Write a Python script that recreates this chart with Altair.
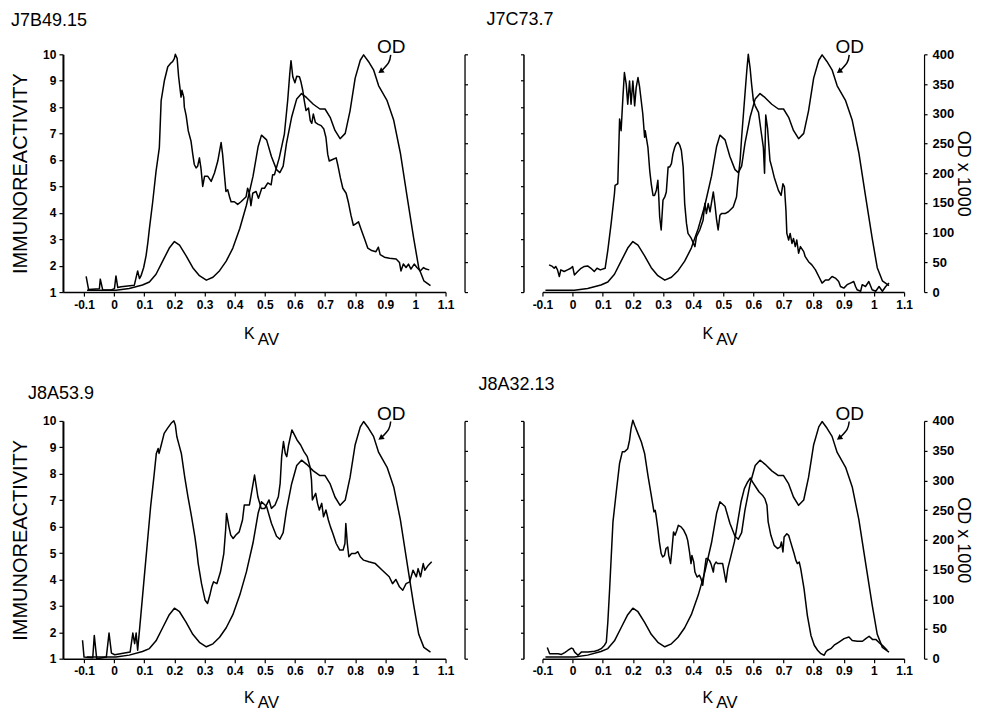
import altair as alt
import pandas as pd

FONT = "Liberation Sans"

# ---- axis ticks / labels ----
X_TICKS = [-0.1, 0, 0.1, 0.2, 0.3, 0.4, 0.5, 0.6, 0.7, 0.8, 0.9, 1, 1.1]
IMM_TICKS = [1, 2, 3, 4, 5, 6, 7, 8, 9, 10]
OD_TICKS = [0, 50, 100, 150, 200, 250, 300, 350, 400]
PANEL_TITLES = ["J7B49.15", "J7C73.7", "J8A53.9", "J8A32.13"]

# ---- OD x 1000 trace (same elution profile in each panel): (Kav, OD x 1000) ----
OD_TRACE = [(-0.09, 3), (0.006, 3), (0.05, 6), (0.094, 12), (0.117, 17), (0.139, 30), (0.161, 52),
            (0.183, 74), (0.2, 85), (0.217, 79), (0.239, 61), (0.261, 41), (0.283, 27.5), (0.306, 20),
            (0.328, 25), (0.35, 36), (0.372, 52), (0.394, 74), (0.417, 107), (0.439, 146), (0.461, 195),
            (0.478, 245), (0.489, 264), (0.506, 256), (0.522, 228), (0.539, 206), (0.55, 201), (0.561, 212),
            (0.572, 250), (0.589, 294), (0.606, 325), (0.622, 334), (0.639, 327), (0.661, 316), (0.683, 308),
            (0.7, 308), (0.717, 294), (0.733, 272), (0.75, 258), (0.767, 267), (0.783, 305), (0.8, 360),
            (0.817, 390), (0.828, 399), (0.844, 388), (0.861, 374), (0.878, 347), (0.906, 322), (0.928, 289),
            (0.95, 234), (0.972, 162), (0.994, 91), (1.011, 41), (1.028, 19), (1.05, 11)]

# ---- immunoreactivity traces: (Kav, immunoreactivity) ----
IMMUNO_J7B49 = [(-0.093, 1.59), (-0.085, 1.10), (-0.049, 1.13), (-0.046, 1.49), (-0.038, 1.08), (-0.010, 1.08),
    (0.001, 1.13), (0.006, 1.61), (0.012, 1.17), (0.023, 1.20), (0.067, 1.26), (0.078, 1.80), (0.084, 1.51),
    (0.089, 1.61), (0.098, 1.93), (0.106, 2.38), (0.112, 2.89), (0.117, 3.40), (0.128, 4.42), (0.139, 5.57),
    (0.150, 6.47), (0.156, 8.25), (0.167, 9.02), (0.178, 9.53), (0.189, 9.68), (0.194, 9.72), (0.2, 9.85),
    (0.203, 10.0), (0.209, 9.85), (0.214, 9.15), (0.222, 8.38), (0.225, 8.64), (0.231, 8.38), (0.233, 8.0),
    (0.239, 7.68), (0.246, 7.10), (0.255, 6.72), (0.261, 6.21), (0.266, 5.83), (0.272, 5.70), (0.277, 5.76),
    (0.283, 6.08), (0.288, 5.70), (0.294, 5.0), (0.3, 5.38), (0.311, 5.38), (0.322, 5.19), (0.333, 5.51),
    (0.344, 5.96), (0.355, 6.66), (0.360, 6.21), (0.366, 5.44), (0.371, 4.81), (0.377, 4.87), (0.383, 4.61),
    (0.388, 4.42), (0.399, 4.42), (0.410, 4.32), (0.421, 4.42), (0.438, 4.61), (0.443, 4.93), (0.449, 4.74),
    (0.454, 4.27), (0.460, 4.74), (0.471, 4.81), (0.479, 4.55), (0.490, 4.93), (0.499, 4.93), (0.510, 5.13),
    (0.521, 5.06), (0.526, 5.44), (0.532, 5.44), (0.548, 6.08), (0.565, 6.98), (0.576, 8.25), (0.583, 9.28),
    (0.587, 9.76), (0.593, 9.15), (0.600, 8.92), (0.606, 9.17), (0.615, 9.15), (0.620, 8.96), (0.626, 8.64),
    (0.631, 8.25), (0.637, 7.87), (0.645, 7.97), (0.651, 7.49), (0.656, 7.39), (0.661, 7.74), (0.668, 7.42),
    (0.676, 7.36), (0.687, 7.30), (0.696, 7.17), (0.703, 6.85), (0.709, 6.21), (0.714, 5.96), (0.725, 6.02),
    (0.737, 6.08), (0.742, 5.83), (0.751, 5.32), (0.759, 4.93), (0.770, 4.74), (0.777, 4.42), (0.786, 3.91),
    (0.794, 3.53), (0.803, 3.59), (0.811, 3.66), (0.819, 3.40), (0.831, 3.02), (0.842, 2.66), (0.855, 2.57),
    (0.869, 2.53), (0.877, 2.70), (0.883, 2.42), (0.897, 2.32), (0.914, 2.28), (0.936, 2.25), (0.947, 2.12),
    (0.952, 1.80), (0.960, 2.06), (0.969, 1.93), (0.977, 2.06), (0.985, 1.87), (0.996, 2.06), (1.005, 1.93),
    (1.016, 1.80), (1.027, 1.93), (1.035, 1.87), (1.046, 1.84)]

IMMUNO_J7C73 = [(-0.078, 2.03), (-0.067, 1.97), (-0.061, 1.90), (-0.056, 1.97), (-0.05, 1.84), (-0.044, 1.59),
    (-0.039, 1.84), (-0.028, 1.78), (-0.017, 1.84), (-0.006, 1.90), (0.0, 1.97), (0.006, 1.65), (0.017, 1.78),
    (0.028, 1.90), (0.039, 1.97), (0.05, 1.99), (0.061, 1.90), (0.072, 1.78), (0.081, 1.90), (0.092, 1.84),
    (0.108, 1.90), (0.117, 2.59), (0.128, 3.60), (0.139, 4.73), (0.141, 5.04), (0.15, 5.10), (0.156, 7.55),
    (0.161, 7.11), (0.167, 8.37), (0.172, 9.31), (0.178, 8.87), (0.183, 8.11), (0.189, 8.99), (0.194, 8.11),
    (0.2, 8.99), (0.206, 8.05), (0.211, 8.74), (0.217, 9.12), (0.222, 8.80), (0.233, 7.74), (0.239, 6.86),
    (0.241, 7.11), (0.25, 6.48), (0.256, 5.60), (0.261, 5.10), (0.267, 4.66), (0.272, 4.66), (0.278, 4.85),
    (0.283, 5.23), (0.286, 4.60), (0.289, 3.85), (0.294, 3.35), (0.3, 4.48), (0.306, 4.60), (0.311, 4.79),
    (0.317, 5.73), (0.322, 5.73), (0.328, 5.86), (0.333, 6.23), (0.339, 6.48), (0.344, 6.61), (0.35, 6.67),
    (0.356, 6.55), (0.361, 6.36), (0.367, 5.73), (0.372, 4.35), (0.378, 3.60), (0.383, 3.22), (0.394, 3.03),
    (0.406, 2.72), (0.411, 3.10), (0.422, 3.35), (0.433, 3.72), (0.439, 4.35), (0.444, 3.97), (0.45, 4.35),
    (0.456, 4.04), (0.467, 4.79), (0.472, 4.35), (0.478, 3.72), (0.483, 3.35), (0.489, 3.91), (0.494, 3.97),
    (0.506, 3.97), (0.517, 4.04), (0.533, 4.22), (0.544, 4.60), (0.55, 5.35), (0.556, 6.0), (0.561, 6.86),
    (0.572, 8.49), (0.578, 9.37), (0.583, 10.0), (0.589, 9.49), (0.594, 8.87), (0.6, 8.25), (0.606, 8.05),
    (0.617, 7.8), (0.626, 7.05), (0.633, 6.48), (0.637, 5.5), (0.641, 7.7), (0.647, 7.2), (0.655, 5.98),
    (0.661, 5.73), (0.669, 5.35), (0.683, 4.85), (0.692, 4.66), (0.698, 5.10), (0.703, 4.98), (0.708, 4.10),
    (0.711, 3.22), (0.717, 2.97), (0.722, 3.22), (0.728, 2.84), (0.733, 3.03), (0.739, 2.72), (0.744, 2.97),
    (0.75, 2.47), (0.756, 2.72), (0.767, 2.53), (0.772, 2.34), (0.783, 2.15), (0.794, 2.03), (0.806, 1.84),
    (0.817, 1.59), (0.828, 1.34), (0.839, 1.46), (0.85, 1.46), (0.861, 1.59), (0.872, 1.53), (0.883, 1.40),
    (0.889, 1.21), (0.9, 1.15), (0.911, 1.28), (0.922, 1.34), (0.933, 1.40), (0.939, 1.21), (0.944, 1.09),
    (0.956, 1.03), (0.961, 1.28), (0.972, 1.21), (0.983, 1.40), (0.994, 1.09), (1.006, 1.03), (1.017, 1.21),
    (1.028, 1.03), (1.039, 1.21), (1.05, 1.34)]

IMMUNO_J8A53 = [(-0.105, 1.70), (-0.1, 1.06), (-0.071, 1.04), (-0.066, 1.88), (-0.058, 1.0), (-0.026, 1.06),
    (-0.017, 1.97), (-0.009, 1.21), (0.002, 1.15), (0.053, 1.25), (0.062, 1.97), (0.068, 1.57), (0.073, 1.97),
    (0.078, 1.32), (0.087, 2.45), (0.098, 3.84), (0.110, 5.36), (0.121, 6.75), (0.132, 7.89), (0.140, 8.77),
    (0.146, 8.96), (0.149, 8.77), (0.155, 9.03), (0.166, 9.53), (0.177, 9.72), (0.189, 9.91), (0.198, 10.01),
    (0.203, 9.85), (0.208, 9.41), (0.214, 9.15), (0.223, 8.77), (0.234, 7.89), (0.245, 7.13), (0.257, 6.37),
    (0.268, 5.61), (0.274, 5.11), (0.279, 4.60), (0.290, 3.84), (0.302, 3.21), (0.310, 3.09), (0.319, 3.47),
    (0.324, 3.72), (0.330, 3.91), (0.341, 3.84), (0.353, 4.29), (0.358, 4.60), (0.364, 4.98), (0.370, 5.87),
    (0.373, 6.50), (0.381, 5.99), (0.387, 5.68), (0.395, 5.55), (0.404, 5.68), (0.415, 5.80), (0.426, 6.25),
    (0.432, 6.82), (0.449, 6.82), (0.466, 7.95), (0.477, 7.13), (0.488, 6.69), (0.500, 6.69), (0.514, 7.01),
    (0.522, 6.69), (0.534, 6.82), (0.545, 7.13), (0.551, 7.64), (0.556, 8.65), (0.562, 9.22), (0.568, 8.77),
    (0.573, 8.65), (0.579, 9.09), (0.590, 9.66), (0.596, 9.53), (0.607, 9.28), (0.619, 9.09), (0.630, 8.84),
    (0.641, 8.65), (0.650, 8.27), (0.655, 7.76), (0.658, 7.01), (0.669, 7.26), (0.675, 6.88), (0.681, 6.63),
    (0.689, 6.88), (0.695, 6.37), (0.703, 6.63), (0.711, 6.25), (0.718, 5.99), (0.726, 5.74), (0.737, 5.36),
    (0.749, 5.11), (0.760, 5.11), (0.766, 5.36), (0.769, 6.12), (0.774, 5.36), (0.779, 4.86), (0.788, 4.98),
    (0.800, 4.98), (0.809, 5.05), (0.817, 4.86), (0.828, 4.73), (0.845, 4.67), (0.867, 4.60), (0.890, 4.35),
    (0.913, 4.10), (0.924, 3.84), (0.935, 4.0), (0.947, 3.72), (0.958, 3.59), (0.969, 3.84), (0.981, 3.91),
    (0.992, 4.35), (1.003, 4.10), (1.009, 4.41), (1.017, 4.10), (1.026, 4.60), (1.031, 4.35), (1.043, 4.54),
    (1.054, 4.67)]

IMMUNO_J8A32 = [(-0.084, 1.42), (-0.076, 1.19), (-0.070, 1.19), (-0.048, 1.19), (-0.037, 1.16), (-0.026, 1.23),
    (-0.015, 1.32), (-0.004, 1.40), (0.001, 1.38), (0.007, 1.25), (0.018, 1.13), (0.029, 1.25), (0.051, 1.25),
    (0.073, 1.28), (0.084, 1.32), (0.095, 1.38), (0.106, 1.51), (0.112, 1.63), (0.117, 2.39), (0.123, 3.65),
    (0.134, 6.18), (0.145, 7.31), (0.156, 8.40), (0.165, 8.83), (0.172, 8.83), (0.183, 8.95), (0.189, 9.27),
    (0.194, 9.71), (0.2, 10.03), (0.206, 9.84), (0.217, 9.52), (0.228, 9.21), (0.239, 8.77), (0.25, 7.94),
    (0.261, 7.19), (0.270, 6.56), (0.274, 6.62), (0.277, 6.43), (0.283, 5.92), (0.288, 5.42), (0.294, 4.98),
    (0.299, 4.85), (0.305, 4.91), (0.310, 5.17), (0.316, 5.23), (0.319, 4.91), (0.325, 4.60), (0.329, 5.04),
    (0.335, 5.80), (0.340, 5.67), (0.346, 5.86), (0.351, 6.05), (0.360, 5.99), (0.369, 5.86), (0.377, 5.67),
    (0.382, 5.48), (0.388, 5.04), (0.393, 4.60), (0.396, 4.91), (0.402, 4.66), (0.406, 4.28), (0.413, 4.09),
    (0.421, 4.16), (0.426, 4.03), (0.432, 3.78), (0.437, 4.28), (0.443, 4.79), (0.448, 4.79), (0.454, 4.72),
    (0.459, 4.60), (0.467, 4.28), (0.470, 4.54), (0.476, 4.66), (0.481, 4.60), (0.492, 4.60), (0.498, 4.60),
    (0.504, 4.22), (0.509, 3.90), (0.515, 4.41), (0.526, 4.91), (0.537, 5.42), (0.548, 6.18), (0.559, 6.94),
    (0.570, 7.44), (0.581, 7.69), (0.590, 7.84), (0.597, 7.69), (0.608, 7.50), (0.619, 7.31), (0.630, 7.19),
    (0.638, 7.06), (0.645, 6.81), (0.649, 6.18), (0.658, 5.67), (0.669, 5.29), (0.680, 5.17), (0.689, 5.23),
    (0.693, 5.42), (0.698, 5.04), (0.702, 5.61), (0.711, 5.73), (0.717, 5.67), (0.722, 5.48), (0.730, 5.17),
    (0.735, 4.98), (0.741, 4.72), (0.746, 4.60), (0.752, 4.66), (0.757, 4.41), (0.768, 3.65), (0.779, 2.64),
    (0.791, 1.88), (0.802, 1.51), (0.813, 1.32), (0.824, 1.19), (0.835, 1.13), (0.840, 1.25), (0.846, 1.32),
    (0.857, 1.38), (0.868, 1.51), (0.884, 1.63), (0.901, 1.76), (0.917, 1.82), (0.928, 1.69), (0.945, 1.66),
    (0.962, 1.66), (0.973, 1.76), (0.984, 1.85), (0.995, 1.73), (1.006, 1.73), (1.017, 1.61), (1.028, 1.51),
    (1.044, 1.32)]

# ---- annotations (data units: Kav, OD x 1000) ----
OD_LABEL = [(0.92, 412)]
OD_ARROW = [(0.918, 399), (0.911, 386), (0.887, 372)]
KAV_K = [(0.449, "K")]
KAV_SUB = [(0.512, "AV")]

LABEL_EXPR = ("datum.value < 0 ? '-0.1' : datum.value == 0 ? '0' : "
              "datum.value == 1 ? '1' : format(datum.value, '.1f')")

H = 238


def panel(title, immuno, left, tdx, toff, k_dy, sub_dy):
    W = 383 if left else 362
    xscale = alt.Scale(domain=[-0.17, 1.1] if left else [-0.1, 1.1], nice=False, zero=False)
    xaxis = alt.Axis(values=X_TICKS, labelExpr=LABEL_EXPR, title=None, tickSize=4, labelPadding=3,
                     labelFontSize=12, labelFontWeight="bold", domainWidth=1.6, labelFlush=False)
    X = alt.X("kav:Q", scale=xscale, axis=xaxis)
    imm_scale = alt.Scale(domain=[1, 10], nice=False, zero=False)
    od_scale = alt.Scale(domain=[0, 400], nice=False, zero=False)

    if left:
        imm_axis = alt.Axis(orient="left", values=IMM_TICKS, title="IMMUNOREACTIVITY", titleFontSize=20,
                            titleFontWeight="normal", titlePadding=12, labelFontSize=12,
                            labelFontWeight="bold", tickSize=4, labelPadding=3, domainWidth=2)
        od_axis = alt.Axis(orient="right", values=OD_TICKS, labels=False, title=None, offset=19,
                           tickSize=3, domainWidth=1.3)
    else:
        imm_axis = alt.Axis(orient="left", values=IMM_TICKS, labels=False, title=None, offset=19,
                            tickSize=3, domainWidth=1.5)
        od_axis = alt.Axis(orient="right", values=OD_TICKS, title="OD x 1000", titleFontSize=18,
                           titleFontWeight="normal", titlePadding=0, labelFontSize=13,
                           labelFontWeight="bold", tickSize=3, labelPadding=5, offset=20, domainWidth=1.2)

    df_imm = pd.DataFrame(immuno, columns=["kav", "imm"]).reset_index().rename(columns={"index": "i"})
    df_od = pd.DataFrame(OD_TRACE, columns=["kav", "od"]).reset_index().rename(columns={"index": "i"})
    df_lab = pd.DataFrame(OD_LABEL, columns=["kav", "od"])
    df_arr = pd.DataFrame(OD_ARROW, columns=["kav", "od"]).reset_index().rename(columns={"index": "i"})
    df_k = pd.DataFrame(KAV_K, columns=["kav", "t"])
    df_sub = pd.DataFrame(KAV_SUB, columns=["kav", "t"])

    line_style = dict(color="black", strokeWidth=1.5, strokeJoin="round")

    imm_line = alt.Chart(df_imm).mark_line(**line_style).encode(
        x=X, y=alt.Y("imm:Q", scale=imm_scale, axis=imm_axis), order="i:Q")
    od_line = alt.Chart(df_od).mark_line(**line_style).encode(
        x=X, y=alt.Y("od:Q", scale=od_scale, axis=od_axis), order="i:Q")
    od_text = alt.Chart(df_lab).mark_text(text="OD", font=FONT, fontSize=19, color="black").encode(
        x=X, y=alt.Y("od:Q", scale=od_scale, axis=None))
    arrow = alt.Chart(df_arr).mark_line(color="black", strokeWidth=1.5, interpolate="cardinal").encode(
        x=X, y=alt.Y("od:Q", scale=od_scale, axis=None), order="i:Q")
    head = alt.Chart(df_arr.tail(1)).mark_point(shape="triangle", filled=True, size=40, angle=235,
                                                color="black", opacity=1).encode(
        x=X, y=alt.Y("od:Q", scale=od_scale, axis=None))
    k_text = alt.Chart(df_k).mark_text(font=FONT, fontSize=16, color="black", baseline="middle").encode(
        x=X, y=alt.value(H + k_dy), text="t:N")
    sub_text = alt.Chart(df_sub).mark_text(font=FONT, fontSize=17, color="black", baseline="middle").encode(
        x=X, y=alt.value(H + sub_dy), text="t:N")

    return alt.layer(imm_line, od_line, od_text, arrow, head, k_text, sub_text).resolve_scale(
        y="independent").properties(
        width=W, height=H,
        title=alt.TitleParams(text=title, anchor="start", frame="group", dx=tdx, offset=toff,
                              fontSize=18, fontWeight="normal", font=FONT, color="black"))


p1 = panel(PANEL_TITLES[0], IMMUNO_J7B49, True, -52, 8, 42, 47.5)
p2 = panel(PANEL_TITLES[1], IMMUNO_J7C73, False, -56, 9, 42, 47.5)
p3 = panel(PANEL_TITLES[2], IMMUNO_J8A53, True, -35, 2, 39, 44)
p4 = panel(PANEL_TITLES[3], IMMUNO_J8A32, False, -64, 11, 39, 44)

chart = alt.ConcatChart(concat=[p1, p2, p3, p4], columns=2,
                        spacing={"row": 129, "column": 97}, bounds="flush").properties(
    padding={"left": 2, "top": 2, "right": 2, "bottom": 0}
).configure_view(stroke=None).configure_axis(
    domainColor="black", tickColor="black", labelColor="black", titleColor="black", grid=False,
    labelFont=FONT, titleFont=FONT, tickWidth=1.2)

chart.save("out.html", embed_options={"renderer": "svg", "actions": False})
